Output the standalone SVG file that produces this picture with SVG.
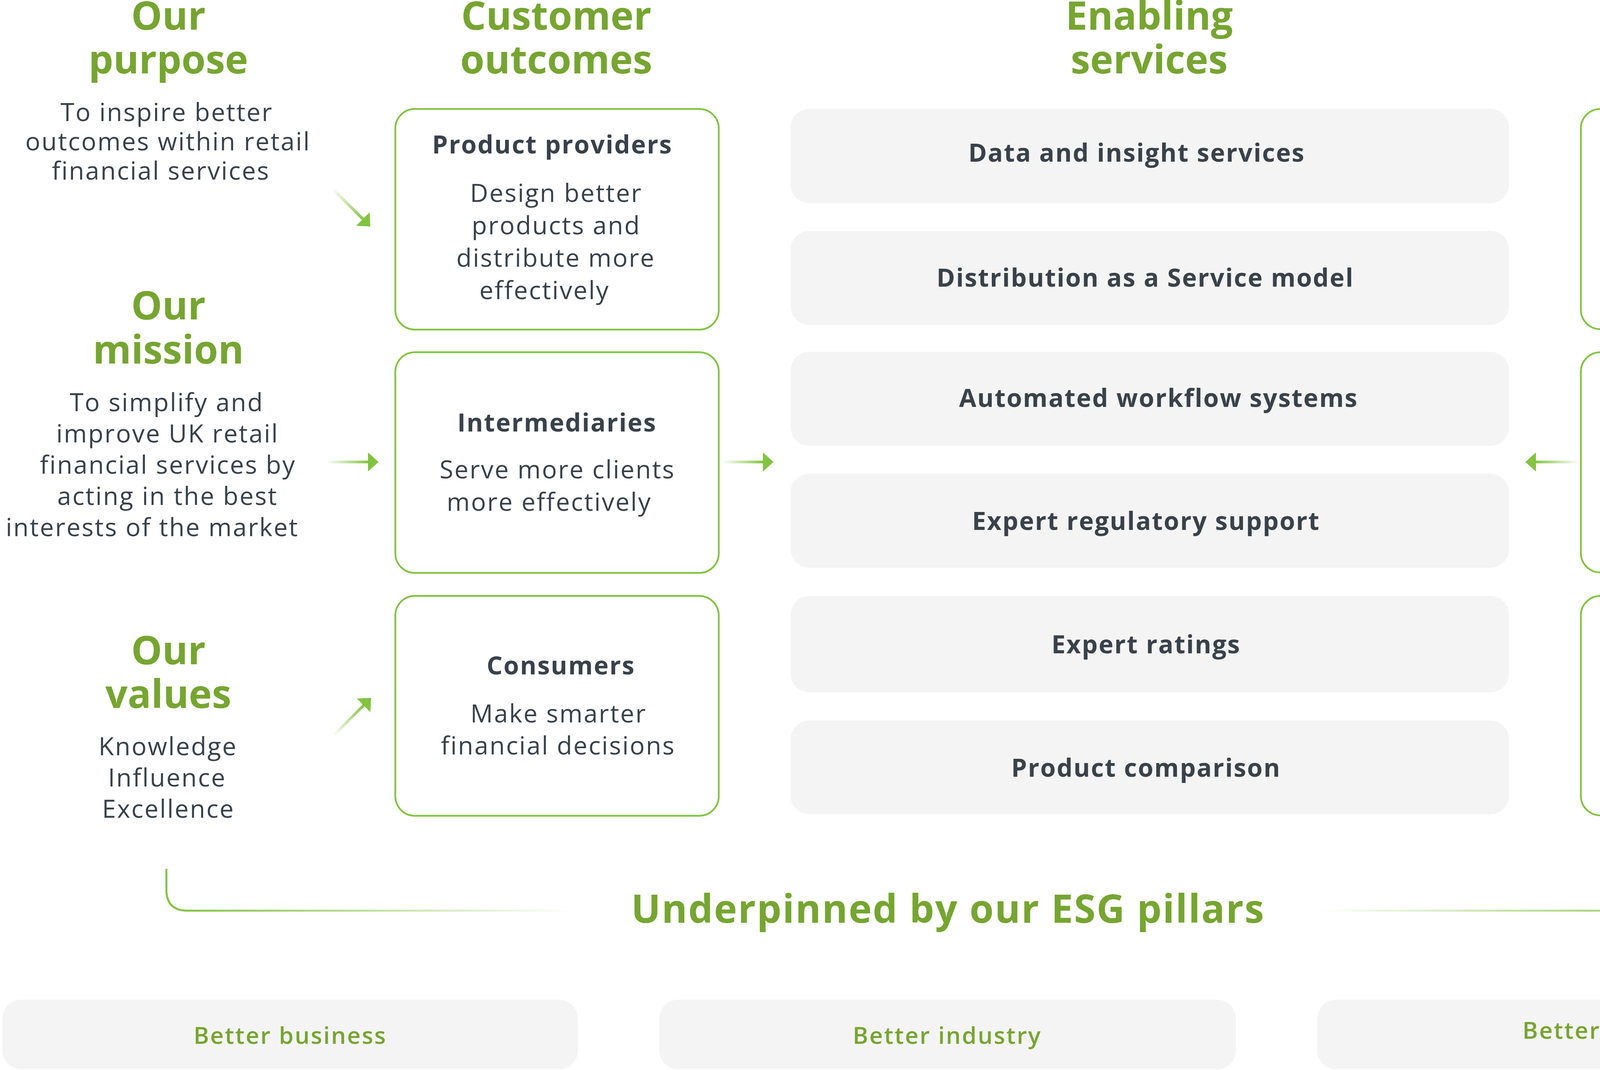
<svg xmlns="http://www.w3.org/2000/svg" width="4873" height="2740" viewBox="0 0 4873 2740">
<defs>
<style>
text{font-family:"Open Sans","Liberation Sans",sans-serif;text-anchor:middle}
.h{font-weight:700;font-size:100px;fill:#76A531}
.e{letter-spacing:2.5px}
.b{font-weight:400;font-size:64px;fill:#39414A;letter-spacing:3px}
.t{font-weight:700;font-size:64px;fill:#39414A;letter-spacing:2.5px}
.p{font-weight:600;font-size:60px;fill:#76A531;letter-spacing:3px}
.cbox{fill:#FFFFFF;stroke:#82C341;stroke-width:4.5}
.sbox{fill:#F4F4F4}
.head{fill:#82C341}
</style>
<linearGradient id="ag" x1="0" y1="0" x2="1" y2="0">
<stop offset="0" stop-color="#82C341" stop-opacity="0"/>
<stop offset="1" stop-color="#82C341" stop-opacity="1"/>
</linearGradient>
<linearGradient id="bl" gradientUnits="userSpaceOnUse" x1="470" y1="0" x2="1466" y2="0">
<stop offset="0" stop-color="#82C341" stop-opacity="1"/>
<stop offset="1" stop-color="#82C341" stop-opacity="0"/>
</linearGradient>
<linearGradient id="br" gradientUnits="userSpaceOnUse" x1="4412" y1="0" x2="3372" y2="0">
<stop offset="0" stop-color="#82C341" stop-opacity="1"/>
<stop offset="1" stop-color="#82C341" stop-opacity="0"/>
</linearGradient>
</defs>
<rect width="4873" height="2740" fill="#FFFFFF"/>

<g id="col-purpose">
<text class="h" x="431" y="76">Our</text>
<text class="h" x="431" y="188">purpose</text>
<text class="b" x="427" y="310">To inspire better</text>
<text class="b" x="430" y="385">outcomes within retail</text>
<text class="b" x="412" y="460">financial services</text>
</g>
<g id="col-mission">
<text class="h" x="431" y="818">Our</text>
<text class="h" x="431" y="931">mission</text>
<text class="b" x="427" y="1053">To simplify and</text>
<text class="b" x="429" y="1133">improve UK retail</text>
<text class="b" x="430" y="1213">financial services by</text>
<text class="b" x="429" y="1293">acting in the best</text>
<text class="b" x="390" y="1373">interests of the market</text>
</g>
<g id="col-values">
<text class="h" x="431" y="1701">Our</text>
<text class="h" x="431" y="1813">values</text>
<text class="b" x="430" y="1934">Knowledge</text>
<text class="b" x="428" y="2014">Influence</text>
<text class="b" x="431" y="2094">Excellence</text>
</g>

<g id="headings">
<text class="h" x="1424" y="76">Customer</text>
<text class="h" x="1424" y="188">outcomes</text>
<text class="h" x="2942" y="76">Enabling</text>
<text class="h" x="2942" y="188">services</text>
<text class="h" x="4461" y="76">Key</text>
<text class="h" x="4461" y="188">drivers</text>
</g>

<g id="product-providers">
<rect class="cbox" x="1012" y="279" width="828" height="565" rx="50"/>
<text class="t" x="1414" y="393">Product providers</text>
<text class="b" x="1424" y="517">Design better</text>
<text class="b" x="1424" y="600">products and</text>
<text class="b" x="1423" y="683">distribute more</text>
<text class="b" x="1394" y="766">effectively</text>
</g>
<g id="intermediaries">
<rect class="cbox" x="1012" y="902" width="828" height="565" rx="50"/>
<text class="t" x="1426" y="1105">Intermediaries</text>
<text class="b" x="1427" y="1225">Serve more clients</text>
<text class="b" x="1406" y="1308">more effectively</text>
</g>
<g id="consumers">
<rect class="cbox" x="1012" y="1526" width="828" height="563" rx="50"/>
<text class="t" x="1436" y="1727">Consumers</text>
<text class="b" x="1430" y="1850">Make smarter</text>
<text class="b" x="1429" y="1932">financial decisions</text>
</g>

<g id="svc-data">
<rect class="sbox" x="2024" y="279" width="1839" height="241" rx="48"/>
<text class="t" x="2910" y="414">Data and insight services</text>
</g>
<g id="svc-daas">
<rect class="sbox" x="2024" y="591" width="1839" height="241" rx="48"/>
<text class="t" x="2932" y="734">Distribution as a Service model</text>
</g>
<g id="svc-workflow">
<rect class="sbox" x="2024" y="901" width="1839" height="241" rx="48"/>
<text class="t" x="2966" y="1042">Automated workflow systems</text>
</g>
<g id="svc-regulatory">
<rect class="sbox" x="2024" y="1213" width="1839" height="241" rx="48"/>
<text class="t" x="2934" y="1357">Expert regulatory support</text>
</g>
<g id="svc-ratings">
<rect class="sbox" x="2024" y="1526" width="1839" height="247" rx="48"/>
<text class="t" x="2934" y="1673">Expert ratings</text>
</g>
<g id="svc-comparison">
<rect class="sbox" x="2024" y="1845" width="1839" height="240" rx="48"/>
<text class="t" x="2934" y="1989">Product comparison</text>
</g>

<g id="driver-1">
<rect class="cbox" x="4047" y="279" width="820" height="564" rx="50"/>
<text class="b" x="4464" y="396">Increase usage of</text>
<text class="b" x="4462" y="477">Distribution as a</text>
<text class="b" x="4473" y="558">Service model</text>
<text class="b" x="4464" y="702">Develop data services</text>
</g>
<g id="driver-2">
<rect class="cbox" x="4047" y="902" width="820" height="564" rx="50"/>
<text class="b" x="4478" y="1037">Increase usage</text>
<text class="b" x="4487" y="1117">of fintech</text>
<text class="b" x="4471" y="1256">Develop regulatory</text>
<text class="b" x="4460" y="1335">technology</text>
</g>
<g id="driver-3">
<rect class="cbox" x="4047" y="1526" width="820" height="562" rx="50"/>
<text class="b" x="4460" y="1656">Expand service and</text>
<text class="b" x="4469" y="1736">technology platform</text>
<text class="b" x="4475" y="1899">Develop digital</text>
<text class="b" x="4476" y="1978">client portals</text>
</g>

<g id="connectors">
<g transform="translate(948,580) rotate(45)">
<rect x="-137" y="-3.5" width="112" height="7" fill="url(#ag)"/>
<polygon class="head" points="0,0 -27,-24.5 -27,24.5"/>
</g>
<g transform="translate(969,1183)">
<rect x="-134" y="-3.5" width="109" height="7" fill="url(#ag)"/>
<polygon class="head" points="0,0 -27,-24.5 -27,24.5"/>
</g>
<g transform="translate(950,1787) rotate(-45)">
<rect x="-137" y="-3.5" width="112" height="7" fill="url(#ag)"/>
<polygon class="head" points="0,0 -27,-24.5 -27,24.5"/>
</g>
<g transform="translate(1980,1183)">
<rect x="-131" y="-3.5" width="106" height="7" fill="url(#ag)"/>
<polygon class="head" points="0,0 -27,-24.5 -27,24.5"/>
</g>
<g transform="translate(3905,1183) rotate(180)">
<rect x="-137" y="-3.5" width="112" height="7" fill="url(#ag)"/>
<polygon class="head" points="0,0 -27,-24.5 -27,24.5"/>
</g>
<path d="M426,2225 V2278 Q426,2332 480,2332 H1466" fill="none" stroke="url(#bl)" stroke-width="5"/>
<path d="M4456,2225 V2278 Q4456,2332 4402,2332 H3372" fill="none" stroke="url(#br)" stroke-width="5"/>
</g>

<g id="esg">
<text class="h e" x="2427" y="2363">Underpinned by our ESG pillars</text>
</g>
<g id="pillar-business">
<rect class="sbox" x="6" y="2560" width="1473" height="178" rx="48"/>
<text class="p" x="743" y="2673">Better business</text>
</g>
<g id="pillar-industry">
<rect class="sbox" x="1688" y="2560" width="1476" height="178" rx="48"/>
<text class="p" x="2425" y="2673">Better industry</text>
</g>
<g id="pillar-future">
<rect class="sbox" x="3372" y="2560" width="1476" height="178" rx="48"/>
<text class="p" x="4107" y="2660">Better future</text>
</g>
</svg>
